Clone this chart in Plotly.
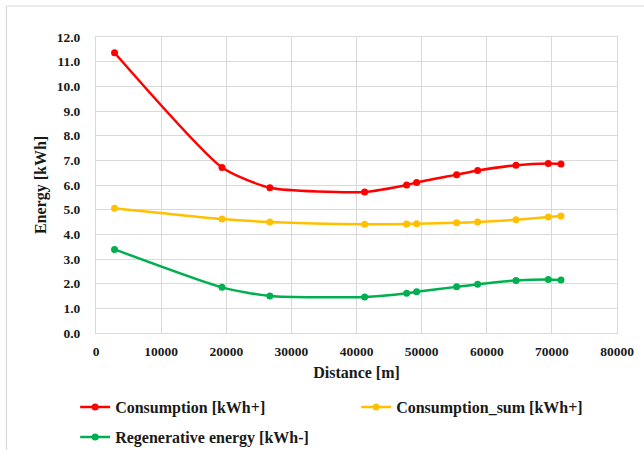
import plotly.graph_objects as go

distance = [2850, 19350, 26700, 41250, 47700, 49230, 55370, 58600, 64490, 69450, 71400]
consumption = [11.36, 6.71, 5.89, 5.72, 6.00, 6.10, 6.42, 6.59, 6.80, 6.87, 6.85]
consumption_sum = [5.06, 4.62, 4.50, 4.41, 4.42, 4.43, 4.47, 4.50, 4.59, 4.70, 4.74]
regenerative = [3.39, 1.85, 1.50, 1.46, 1.61, 1.67, 1.87, 1.98, 2.13, 2.17, 2.15]

names = ["Consumption [kWh+]", "Consumption_sum [kWh+]", "Regenerative energy [kWh-]"]
colors = ["#FF0000", "#FFC000", "#00B050"]
series = [consumption, consumption_sum, regenerative]
legend_ids = ["legend", "legend", "legend2"]

FONT = "Liberation Serif"
PW, PH = 521, 296

fig = go.Figure()
for name, color, ys, lg in zip(names, colors, series, legend_ids):
    fig.add_trace(go.Scatter(
        x=distance, y=ys, name=name, mode="lines+markers", legend=lg,
        line=dict(color=color, width=2.5, shape="spline", smoothing=0.6),
        marker=dict(color=color, size=7),
    ))

legend_font = dict(family=FONT, size=16, color="#1a1a1a", weight="bold")
fig.update_layout(
    width=644, height=450,
    paper_bgcolor="white", plot_bgcolor="white",
    margin=dict(l=96, r=27, t=37, b=117, autoexpand=False),
    font=dict(family=FONT, size=12, color="#1a1a1a"),
    showlegend=True,
    legend=dict(
        orientation="h", x=-0.04, xanchor="left", y=-(407 - 333) / PH, yanchor="middle",
        entrywidth=236, entrywidthmode="pixels", font=legend_font, itemwidth=30,
        bgcolor="rgba(0,0,0,0)",
    ),
    legend2=dict(
        orientation="h", x=-0.04, xanchor="left", y=-(437 - 333) / PH, yanchor="middle",
        entrywidth=236, entrywidthmode="pixels", font=legend_font, itemwidth=30,
        bgcolor="rgba(0,0,0,0)",
    ),
    shapes=[
        dict(type="line", xref="paper", yref="paper",
             x0=-89.5 / PW, x1=1 + 30 / PW, y0=1 + 31 / PH, y1=1 + 31 / PH,
             line=dict(color="#d9d9d9", width=1.2), layer="below"),
        dict(type="line", xref="paper", yref="paper",
             x0=-89.5 / PW, x1=-89.5 / PW, y0=1 + 31 / PH, y1=-120 / PH,
             line=dict(color="#d9d9d9", width=1.2), layer="below"),
    ],
)

fig.update_xaxes(
    range=[0, 80000], dtick=10000, tickformat="d",
    showgrid=True, gridcolor="#d9d9d9", gridwidth=1,
    showline=True, linecolor="#d9d9d9", mirror=True, zeroline=False,
    ticks="", ticklabelstandoff=6, tickfont=dict(family=FONT, size=13.5, weight="bold"),
    title=dict(text="Distance [m]", font=dict(family=FONT, size=16, weight="bold"), standoff=8),
)
fig.update_yaxes(
    range=[0, 12], dtick=1, tickformat=".1f",
    showgrid=True, gridcolor="#d9d9d9", gridwidth=1,
    showline=True, linecolor="#d9d9d9", mirror=True, zeroline=False,
    ticks="", ticklabelstandoff=12, tickfont=dict(family=FONT, size=13.5, weight="bold"),
    title=dict(text="Energy [kWh]", font=dict(family=FONT, size=16, weight="bold"), standoff=6),
)

fig.write_html("out.html")
